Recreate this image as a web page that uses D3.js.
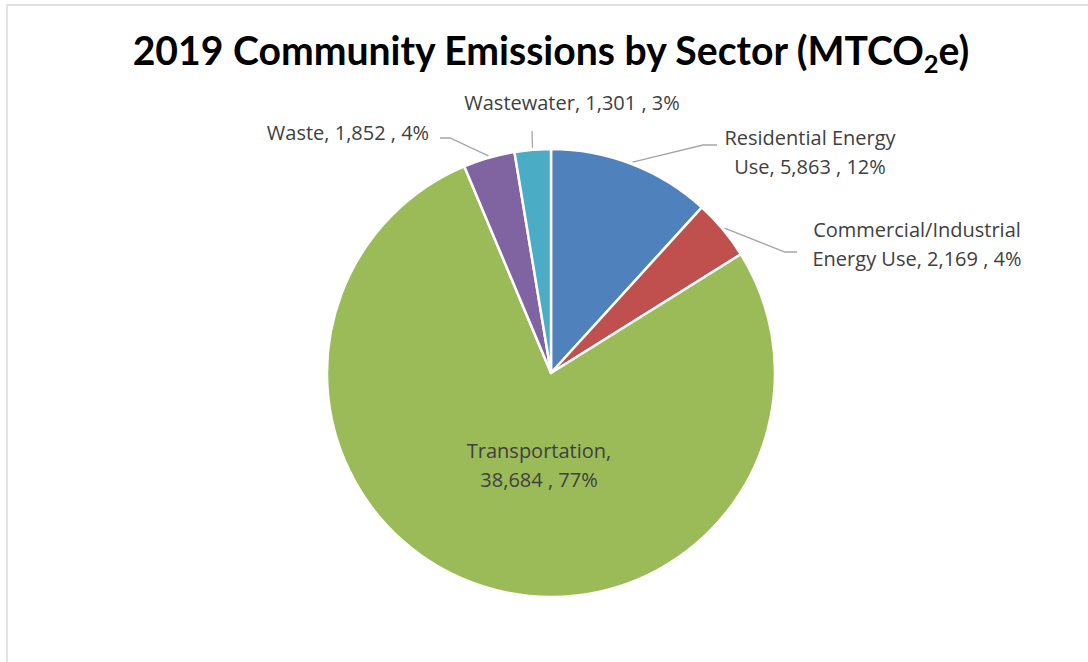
<!DOCTYPE html>
<html><head><meta charset="utf-8">
<script src="https://cdn.jsdelivr.net/npm/d3@7"></script>
<style>
html,body{margin:0;padding:0;background:#fff;}
svg{display:block;}
</style></head>
<body>
<svg id="chart" width="1088" height="662"></svg>
<script>
// ---- data ----
const sectors = ["Residential Energy Use", "Commercial/Industrial Energy Use", "Transportation", "Waste", "Wastewater"];
const labelLines = [["Residential Energy", "Use, 5,863 , 12%"], ["Commercial/Industrial", "Energy Use, 2,169 , 4%"], ["Transportation,", "38,684 , 77%"], ["Waste, 1,852 , 4%"], ["Wastewater, 1,301 , 3%"]];
const values = [5863, 2169, 38684, 1852, 1301];
const colors = ["#4F81BD", "#C0504D", "#9BBB59", "#8064A2", "#4BACC6"];

// ---- layout ----
const W = 1088, H = 662;
const cx = 551, cy = 373, R = 224;
const svg = d3.select("#chart");
const FONT = "Lato, 'Open Sans', sans-serif";
const LFONT = "'Open Sans', Lato, sans-serif";

// frame
svg.append("path").attr("d", `M7,${H} V5 H${W}`).attr("fill", "none").attr("stroke", "#d9d9d9").attr("stroke-width", 1.5);

// title
const title = svg.append("text").attr("x", cx).attr("y", 65).attr("text-anchor", "middle")
  .attr("font-family", FONT).attr("font-weight", "bold").attr("font-size", 37).attr("fill", "#000");
title.append("tspan").text("2019 Community Emissions by Sector (MTCO");
title.append("tspan").text("2").attr("font-size", 24).attr("dy", 8);
title.append("tspan").text("e)").attr("dy", -8);
const tw = title.node().getComputedTextLength();
const fs = 37 * 837 / tw;
title.attr("font-size", fs);
title.select("tspan:nth-child(2)").attr("font-size", fs * 0.65);

// pie
const pie = d3.pie().sort(null).value(d => d).startAngle(0).endAngle(2 * Math.PI);
const arcs = pie(values);
const arc = d3.arc().innerRadius(0).outerRadius(R);
const g = svg.append("g").attr("transform", `translate(${cx},${cy})`);
g.selectAll("path.slice").data(arcs).enter().append("path")
  .attr("class", "slice").attr("d", arc)
  .attr("fill", (d, i) => colors[i]).attr("stroke", "#fff").attr("stroke-width", 2.5).attr("stroke-linejoin", "round");

// measure label font size so widths match the reference (Wastewater label ~228px)
const probe = svg.append("text").attr("font-family", LFONT).attr("font-size", 18).text(labelLines[4][0]);
const lfs = Math.min(20, 18 * 228 / probe.node().getComputedTextLength());
probe.remove();

const labelPos = [
  {x: 259, y: -228, elbow: [152, -228], end: [166, -228]},
  {x: 366, y: -136, elbow: [234, -121], end: [246, -121]},
  {x: -12, y: 85},
  {x: -203, y: -233, elbow: [-101, -235], end: [-111, -235]},
  {x: 21, y: -263, elbow: [-19, -242], end: [-19, -242]}
];
const lineH = 28.5;
const pt = (a, r) => [r * Math.sin(a), -r * Math.cos(a)];

arcs.forEach((d, i) => {
  const p = labelPos[i];
  const mid = (d.startAngle + d.endAngle) / 2;
  if (p.elbow) {
    const s = pt(mid, R + 2);
    g.append("path").attr("d", d3.line()([s, p.elbow, p.end])).attr("fill", "none")
      .attr("stroke", "#a6a6a6").attr("stroke-width", 1.3);
  }
  const t = g.append("text").attr("x", p.x).attr("y", p.y).attr("text-anchor", "middle")
    .attr("font-family", LFONT).attr("font-size", lfs).attr("fill", "#404040");
  labelLines[i].forEach((l, j) => {
    t.append("tspan").attr("x", p.x).attr("dy", j === 0 ? 0 : lineH).text(l);
  });
});
</script>
</body></html>
